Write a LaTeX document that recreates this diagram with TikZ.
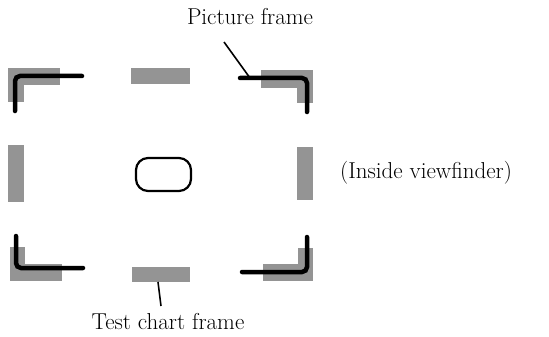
\documentclass[tikz,border=0pt]{standalone}
\begin{document}
\begin{tikzpicture}[x=1pt,y=-1pt,
  label/.style={font=\fontsize{23}{27}\selectfont,inner sep=0pt},
  chart/.style={fill=black!42,draw=none},
  frameline/.style={line width=4.5pt,rounded corners=5pt,line cap=round},
  leader/.style={line width=1.6pt}]
\useasboundingbox (0,0) rectangle (549,337);

% test chart frame (gray bands)
\foreach \a/\b/\c/\d in {8/68/60/85, 8/68/24/102, 131/68/190/84,
    261/70/313/88, 297/70/313/103, 8/145/24/202, 297/147/313/200,
    10/247/25/281, 10/264/62/281, 132/267/190/282,
    263/264/313/281, 298/248/313/281}
{
    \fill[chart] (\a,\b) rectangle (\c,\d);
}

% picture frame corners
\coordinate (TL) at (15,76);
\coordinate (TR) at (307,78);
\coordinate (BL) at (16,268);
\coordinate (BR) at (307,272);
\draw[frameline] (82,76) -- (TL) -- (15,111);
\draw[frameline] (240,78) -- (TR) -- (307,112);
\draw[frameline] (16,236) -- (BL) -- (83,268);
\draw[frameline] (242,272) -- (BR) -- (307,237);

% centre mark
\node[draw,line width=2.2pt,rounded corners=12pt,minimum width=55pt,
      minimum height=33pt,inner sep=0pt] (mark) at (163.5,174.5) {};

% labels
\node[label,anchor=base] (picframe) at (250,25) {Picture frame};
\node[label,anchor=base] (chartframe) at (168,329) {Test chart frame};
\node[label,anchor=base west] (viewfinder) at (340,178) {(Inside viewfinder)};

\coordinate (P0) at (224,42);
\coordinate (P1) at (250,78);
\coordinate (C0) at (161,306);
\coordinate (C1) at (158,282);
\draw[leader] (P0) -- (P1);
\draw[leader] (C1) -- (C0);
\end{tikzpicture}
\end{document}
